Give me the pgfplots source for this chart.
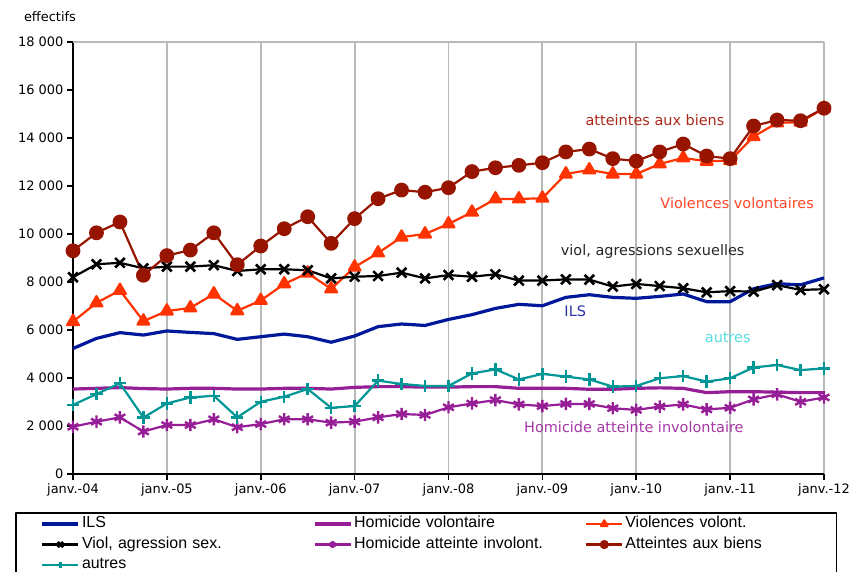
\documentclass[border=0pt]{standalone}
\usepackage{fontspec}
\setmainfont{DejaVu Sans}
\newfontfamily\legfont{Liberation Sans}
\usepackage{pgfplots}
\usepackage{pgfplotstable}
\pgfplotsset{compat=1.18}

\definecolor{cILS}{RGB}{0,24,153}
\definecolor{cHom}{RGB}{150,30,150}
\definecolor{cVio}{RGB}{255,51,0}
\definecolor{cBien}{RGB}{150,20,0}
\definecolor{cAut}{RGB}{0,150,150}
\definecolor{lBien}{RGB}{170,40,25}
\definecolor{lVio}{RGB}{255,70,40}
\definecolor{lAut}{RGB}{90,220,225}
\definecolor{lHom}{RGB}{165,55,165}
\definecolor{lILS}{RGB}{40,50,165}
\definecolor{gridgray}{RGB}{185,185,185}

% quarterly values, q = 0 is janv.-04
\pgfplotstableread{
q  ils   homv  vio    viol  homi  biens  aut
0  5230  3540  6350   8200  1970  9300   2880
1  5650  3570  7130   8740  2180  10050  3330
2  5890  3600  7650   8800  2360  10500  3780
3  5790  3560  6370   8570  1770  8280   2350
4  5960  3540  6790   8640  2040  9100   2940
5  5900  3570  6920   8640  2040  9330   3190
6  5850  3570  7500   8700  2280  10050  3260
7  5610  3540  6800   8460  1950  8720   2360
8  5720  3540  7230   8530  2080  9500   3010
9  5830  3570  7920   8530  2280  10220  3220
10 5720  3570  8370   8490  2280  10720  3540
11 5490  3540  7710   8150  2140  9610   2760
12 5750  3610  8620   8220  2180  10640  2830
13 6140  3640  9210   8250  2360  11470  3890
14 6250  3640  9870   8390  2500  11830  3750
15 6190  3620  10000  8150  2460  11740  3670
16 6440  3620  10420  8290  2780  11930  3670
17 6640  3640  10910  8220  2940  12600  4190
18 6900  3640  11460  8320  3080  12760  4360
19 7070  3570  11460  8060  2900  12860  3940
20 7010  3570  11490  8060  2830  12970  4170
21 7360  3570  12500  8110  2920  13420  4060
22 7470  3530  12670  8100  2920  13540  3940
23 7360  3530  12500  7810  2740  13140  3640
24 7320  3570  12500  7920  2670  13040  3670
25 7400  3590  12920  7830  2810  13420  3990
26 7500  3570  13170  7740  2900  13750  4080
27 7180  3390  13030  7570  2690  13250  3850
28 7180  3430  13060  7620  2760  13140  3990
29 7720  3430  14060  7600  3110  14500  4440
30 7930  3410  14630  7870  3320  14750  4540
31 7880  3390  14660  7670  3010  14720  4330
32 8170  3390  15240  7700  3190  15240  4400
}\data

\begin{document}
\begin{tikzpicture}
\useasboundingbox (0,0) rectangle (852bp,-572bp);
\begin{axis}[
    at={(73bp,-474bp)}, anchor=south west,
    scale only axis, width=751bp, height=432bp,
    xmin=0, xmax=32, ymin=0, ymax=18000,
    axis x line*=bottom, axis y line*=left,
    axis line style={black, line width=2bp},
    xtick={0,4,...,32},
    xticklabels={janv.-04,janv.-05,janv.-06,janv.-07,janv.-08,janv.-09,janv.-10,janv.-11,janv.-12},
    ytick={0,2000,...,18000},
    tick align=outside, major tick length=6bp,
    tick style={black, line width=1.6bp},
    xmajorgrids, x grid style={gridgray, line width=1.8bp},
    scaled y ticks=false,
    /pgf/number format/assume math mode=true,
    yticklabel style={/pgf/number format/.cd, fixed, 1000 sep={\ }},
    every tick label/.append style={font=\fontsize{13}{15}\selectfont},
    clip=false,
    line join=round,
    legend columns=3,
    legend cell align=left,
    legend style={
        at={(-0.0772,-0.088)}, anchor=north west,
        draw=black, line width=1.6bp,
        font=\legfont\fontsize{16}{18}\selectfont,
        inner xsep=25bp, inner ysep=1bp,
        nodes={text width=224bp, inner ysep=3bp, text height=11bp, text depth=3.5bp},
        /tikz/every odd column/.append style={column sep=0bp},
        /tikz/every even column/.append style={column sep=5bp},
        /tikz/column 6/.append style={nodes={text width=184bp}},
    },
    legend image code/.code={
        \draw[mark repeat=2, mark phase=2, #1, every mark/.append style={scale=0.55}]
            plot coordinates {(0bp,0bp) (18bp,0bp) (36bp,0bp)};
    },
]
\draw[gridgray, line width=1.8bp] (rel axis cs:0,1) -- (rel axis cs:1,1);

\addplot[cILS, line width=3.2bp, no marks] table[x=q, y=ils] {\data};
\addlegendentry{ILS}
\addplot[cHom, line width=3.2bp, no marks] table[x=q, y=homv] {\data};
\addlegendentry{Homicide volontaire}
\addplot[cVio, line width=2.2bp, mark=triangle*, mark size=6.8bp] table[x=q, y=vio] {\data};
\addlegendentry{Violences volont.}
\addplot[black, line width=2.2bp, mark=x, mark size=6.8bp, mark options={line width=2.6bp}] table[x=q, y=viol] {\data};
\addlegendentry{Viol, agression sex.}
\addplot[cHom, line width=2.2bp, mark=asterisk, mark size=6.2bp, mark options={line width=2.4bp}] table[x=q, y=homi] {\data};
\addlegendentry{Homicide atteinte involont.}
\addplot[cBien, line width=2.2bp, mark=*, mark size=6.3bp] table[x=q, y=biens] {\data};
\addlegendentry{Atteintes aux biens}
\addplot[cAut, line width=2.2bp, mark=+, mark size=6.2bp, mark options={line width=2.4bp}] table[x=q, y=aut] {\data};
\addlegendentry{autres}

\begin{scope}[font=\fontsize{14.5}{17}\selectfont]
\node[lBien] at (axis cs:24.8,14750) {atteintes aux biens};
\node[lVio] at (axis cs:28.3,11290) {Violences volontaires};
\node[black!85] at (axis cs:24.7,9250) {viol, agressions sexuelles};
\node[lILS] at (axis cs:21.4,6790) {ILS};
\node[lAut] at (axis cs:27.9,5667) {autres};
\node[lHom] at (axis cs:23.9,1958) {Homicide atteinte involontaire};
\end{scope}
\end{axis}
\node[font=\fontsize{13}{15}\selectfont] at (50bp,-17bp) {effectifs};
\end{tikzpicture}
\end{document}
